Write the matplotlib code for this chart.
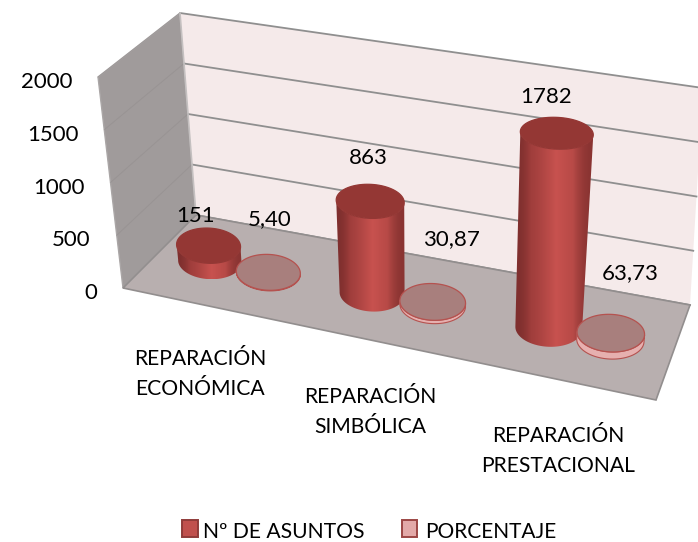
import numpy as np
import matplotlib
matplotlib.use("Agg")
import matplotlib.pyplot as plt
from matplotlib.patches import Polygon, Rectangle
from matplotlib.colors import LinearSegmentedColormap

categories = ["REPARACIÓN\nECONÓMICA", "REPARACIÓN\nSIMBÓLICA", "REPARACIÓN\nPRESTACIONAL"]
asuntos = [151, 863, 1782]
porcentaje = [5.40, 30.87, 63.73]
porcentaje_labels = ["5,40", "30,87", "63,73"]
y_ticks = [0, 500, 1000, 1500, 2000]

plt.rcParams["font.family"] = "Lato"

# box corners in picture pixels (front left, front right, back right, back left)
floor = np.array([[123, 288], [656, 400], [690, 305], [196, 215]], float)
top = np.array([[98, 77], [680, 172], [703, 88], [180, 13]], float)
ZMAX = 2000.0

body_cmap = LinearSegmentedColormap.from_list(
    "body", [(0, "#7f2f2e"), (0.1, "#a03e3c"), (0.55, "#c8524f"), (0.85, "#b84a47"), (1, "#8a3432")])


def bil(c, x, y):
    return ((1-x)*(1-y)*c[0] + x*(1-y)*c[1] + x*y*c[2] + (1-x)*y*c[3])


def proj(x, y, z):
    f = bil(floor, x, y)
    t = bil(top, x, y)
    return f + (t-f)*(z/ZMAX)


def ellipse(c, w, h, t):
    tilt = np.radians(3)
    ex = w/2*np.cos(t)
    ey = h/2*np.sin(t)
    return np.column_stack([c[0] + ex*np.cos(tilt) - ey*np.sin(tilt),
                            c[1] + ex*np.sin(tilt) + ey*np.cos(tilt)])


def size(x, z):
    w = 63 + 5*x + z*0.0035
    return w, w*(0.56 - z*0.00007)


def cylinder(x, y, val, cap, cap_edge, side=None, zorder=5):
    c0, c1 = proj(x, y, 0), proj(x, y, val)
    w0, h0 = size(x, 0)
    w1, h1 = size(x, val)
    ts = np.linspace(np.pi, 0, 61)
    p0 = ellipse(c0, w0, h0, ts)
    p1 = ellipse(c1, w1, h1, ts)
    outline = np.vstack([p0, p1[::-1]])
    if side is None:
        x0, x1 = outline[:, 0].min(), outline[:, 0].max()
        y0, y1 = outline[:, 1].min(), outline[:, 1].max()
        # cosine spacing gives the round look of the side
        u = (1 - np.cos(np.linspace(0, np.pi, 200)))/2
        im = ax.imshow(u[None, :], extent=(x0, x1, y1, y0), cmap=body_cmap, vmin=0, vmax=1,
                       aspect="auto", zorder=zorder, interpolation="bilinear")
        clip = Polygon(outline, closed=True, transform=ax.transData)
        im.set_clip_path(clip)
    else:
        ax.add_patch(Polygon(outline, closed=True, fc=side, ec=cap_edge, lw=0.8, zorder=zorder))
    all_t = np.linspace(0, 2*np.pi, 90)
    ax.add_patch(Polygon(ellipse(c1, w1, h1, all_t), closed=True, fc=cap, ec=cap_edge,
                         lw=0.9, zorder=zorder))


fig = plt.figure(figsize=(6.98, 5.42), dpi=100)
ax = fig.add_axes([0, 0, 1, 1])

# walls and floor
left_wall = [proj(0, 0, 0), proj(0, 0, ZMAX), proj(0, 1, ZMAX), proj(0, 1, 0)]
back_wall = [proj(0, 1, 0), proj(0, 1, ZMAX), proj(1, 1, ZMAX), proj(1, 1, 0)]
floor_poly = [proj(0, 0, 0), proj(1, 0, 0), proj(1, 1, 0), proj(0, 1, 0)]
ax.add_patch(Polygon(left_wall, closed=True, fc="#a09b9b", ec="#aaa6a6", lw=1, zorder=1))
ax.add_patch(Polygon(back_wall, closed=True, fc="#f5eaea", ec="none", zorder=1))
for v in y_ticks:
    a, b, c = proj(0, 0, v), proj(0, 1, v), proj(1, 1, v)
    ax.plot([a[0], b[0]], [a[1], b[1]], color="#8f8a8a", lw=0.7, alpha=0.45, zorder=2)
    ax.plot([b[0], c[0]], [b[1], c[1]], color="#8f8f8f", lw=1.3, zorder=2)
ax.add_patch(Polygon(floor_poly, closed=True, fc="#b8afaf", ec="#928e8e", lw=1.2, zorder=3))
b0, b1 = proj(0, 1, 0), proj(0, 1, ZMAX)
ax.plot([b0[0], b1[0]], [b0[1], b1[1]], color="#c4c0c0", lw=1.2, zorder=2)

# value axis labels
for v in y_ticks:
    p = proj(0, 0, v)
    ax.text(p[0] - 26, p[1] + 5, str(v), ha="right", va="center", fontsize=16, color="black", zorder=9)

# bars
bar_x = [0.098, 0.414, 0.758]
disk_x = [0.212, 0.532, 0.878]
depth = 0.5
for i in range(3):
    cylinder(bar_x[i], depth, asuntos[i], "#943734", "#943734")
    cylinder(disk_x[i], depth, porcentaje[i], "#a87f7d", "#b5524f", side="#e6b0af", zorder=6)

# value labels
label_pos = [(196, 216), (270, 219), (368, 158), (451, 239), (546, 97), (630, 273)]
label_txt = []
for i in range(3):
    label_txt += [str(asuntos[i]), porcentaje_labels[i]]
for (lx, ly), s in zip(label_pos, label_txt):
    ax.text(lx, ly, s, ha="center", va="center", fontsize=16, color="black", zorder=9)

# category labels
cat_pos = [(200, 374), (370, 412), (558, 451)]
for (lx, ly), s in zip(cat_pos, categories):
    ax.text(lx, ly, s, ha="center", va="center", fontsize=15.2, linespacing=1.62, color="black", zorder=9)

# legend
ax.add_patch(Rectangle((182, 520), 16, 17, fc="#c0504d", ec="#8f3b39", lw=1.4, zorder=9))
ax.text(203, 532, "Nº DE ASUNTOS", ha="left", va="center", fontsize=15.2, zorder=9)
ax.add_patch(Rectangle((402, 520), 15, 17, fc="#e3a9a8", ec="#9c4644", lw=1.4, zorder=9))
ax.text(425, 532, "PORCENTAJE", ha="left", va="center", fontsize=15, zorder=9)

ax.set_xlim(0, 698)
ax.set_ylim(542, 0)
ax.axis("off")

fig.savefig("out.png", dpi=100)
